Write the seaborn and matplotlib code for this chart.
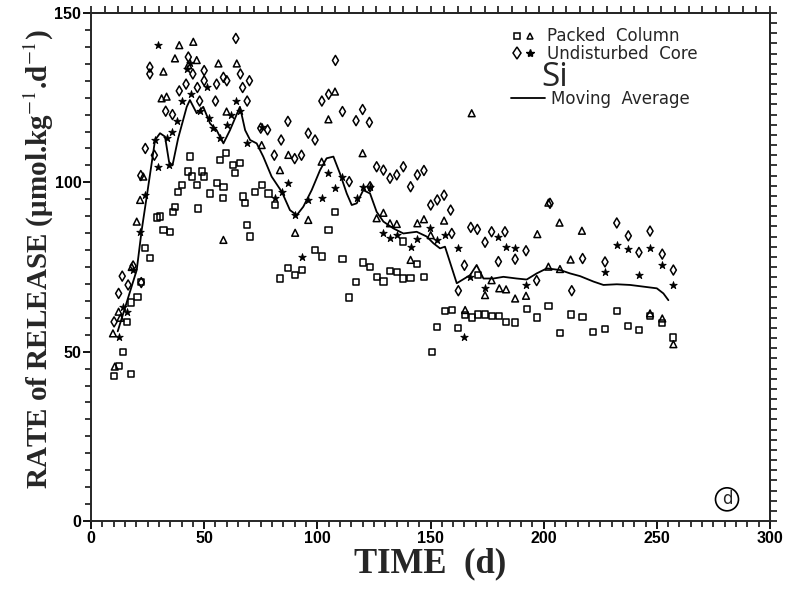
import numpy as np
import matplotlib
matplotlib.use("Agg")
import matplotlib.pyplot as plt
import seaborn as sns
from matplotlib.lines import Line2D
from matplotlib.legend_handler import HandlerTuple

# Packed column, square markers (time d, rate umol/kg/d)
sq_t = [10.2, 17.8, 12.2, 14.1, 16.0, 17.8, 20.5, 22.1, 23.9, 26.1, 29.0, 30.5, 32.0, 34.9,
        36.4, 37.1, 38.6, 40.1, 43.0, 43.7, 44.5, 46.7, 47.4, 48.9, 49.9, 52.6, 55.5, 57.0,
        58.2, 58.5, 59.7, 62.9, 63.6, 65.8, 67.3, 68.0, 68.8, 70.3, 72.5, 75.4, 78.4, 81.3,
        83.5, 87.2, 90.2, 93.1, 99.0, 101.9, 104.9, 107.8, 111.1, 114.1, 117.1, 120.3, 123.3,
        126.2, 129.2, 132.1, 135.1, 138.0, 138.0, 141.2, 144.2, 147.1, 150.5, 153.0, 156.4,
        159.4, 162.3, 165.3, 168.2, 171.1, 171.1, 174.1, 177.0, 180.3, 183.2, 187.4, 192.5,
        197.2, 202.1, 207.2, 212.1, 217.2, 221.9, 227.1, 232.3, 237.1, 242.1, 247.0, 252.4, 257.3]
sq_r = [42.8, 43.4, 45.8, 50.0, 58.7, 64.5, 66.2, 70.5, 80.7, 77.6, 89.6, 89.9, 85.9, 85.4,
        91.3, 92.8, 97.2, 99.2, 103.2, 107.6, 101.7, 99.2, 92.3, 103.2, 101.7, 96.7, 99.7, 106.6,
        95.3, 98.7, 108.6, 105.1, 102.7, 105.6, 95.8, 93.8, 87.4, 84.0, 97.2, 99.2, 96.7, 93.3,
        71.6, 74.6, 72.6, 74.1, 80.0, 78.1, 85.9, 91.3, 77.4, 66.0, 70.5, 76.3, 75.1,
        72.1, 70.7, 73.9, 73.6, 71.6, 82.5, 71.8, 75.9, 72.1, 50.0, 57.2, 62.1,
        62.3, 56.9, 60.8, 60.1, 61.0, 72.6, 61.0, 60.6, 60.6, 58.8, 58.6, 62.6,
        60.1, 63.6, 55.4, 61.0, 60.3, 55.8, 56.7, 62.0, 57.6, 56.5, 60.6, 58.5, 54.2]

# Packed column, triangle markers
tri_t = [9.7, 10.5, 12.2, 13.0, 18.0, 20.2, 21.7, 23.1, 31.2, 32.0, 33.4, 37.1, 39.0, 43.0,
         45.2, 46.7, 56.3, 58.5, 59.9, 64.4, 75.4, 83.5, 87.2, 90.2, 96.0, 101.9, 104.9, 107.8,
         120.0, 126.2, 129.2, 132.1, 135.1, 141.2, 144.2, 147.1, 150.1, 156.0, 165.3, 168.2,
         174.1, 177.0, 180.4, 183.4, 187.4, 192.2, 197.2, 202.1, 202.1, 207.0, 207.2, 211.9,
         216.9, 247.0, 252.4, 257.3]
tri_r = [55.4, 45.6, 61.8, 60.0, 75.0, 88.4, 94.8, 101.7, 124.8, 132.7, 125.3, 136.6, 140.5, 134.6,
         141.5, 136.1, 135.1, 83.0, 120.9, 135.1, 111.0, 103.6, 108.1, 85.1, 88.9, 106.1, 118.6, 126.8,
         108.6, 89.4, 91.0, 87.9, 87.7, 77.1, 87.9, 89.1, 84.4, 88.7, 62.3, 120.4,
         66.7, 71.1, 68.7, 68.4, 65.7, 66.5, 84.7, 94.0, 75.1, 88.1, 74.4, 77.2,
         85.7, 61.3, 59.8, 52.2]

# Undisturbed core, diamond markers
dia_t = [10.2, 12.2, 13.8, 16.4, 18.6, 22.2, 22.0, 24.0, 26.0, 26.0, 28.0, 33.0, 36.0, 39.0,
         42.0, 43.0, 45.0, 47.0, 48.0, 50.0, 50.0, 55.0, 55.5, 58.5, 60.0, 64.0, 66.0, 67.0,
         69.0, 70.0, 75.0, 78.0, 81.0, 84.0, 87.0, 90.0, 93.0, 96.0, 99.0, 102.0, 105.0, 108.0,
         111.1, 114.1, 117.1, 120.0, 123.0, 123.3, 126.2, 129.2, 132.1, 135.1, 138.0, 141.2,
         144.2, 147.1, 150.1, 153.0, 156.0, 158.9, 159.4, 162.3, 165.0, 167.8, 170.7, 174.1,
         177.0, 180.0, 182.9, 187.4, 192.2, 196.9, 202.8, 212.4, 217.2, 227.1, 232.3, 237.4,
         242.1, 247.0, 252.4, 257.3]
dia_r = [58.8, 67.2, 72.3, 69.7, 75.3, 70.4, 102.0, 110.0, 134.0, 132.0, 108.0, 121.0, 120.0, 127.0,
         129.0, 137.0, 132.0, 128.0, 124.0, 130.0, 133.0, 124.0, 129.0, 131.0, 130.0, 142.5, 132.0, 128.0,
         124.0, 130.0, 116.0, 115.5, 108.0, 112.5, 118.0, 107.0, 108.0, 114.5, 112.5, 124.0, 126.0, 136.0,
         120.9, 100.2, 118.2, 121.5, 117.7, 98.7, 104.6, 103.6, 101.2, 102.2, 104.6, 98.7,
         102.2, 103.5, 93.3, 94.8, 96.2, 91.8, 84.9, 68.0, 75.5, 86.7, 86.1, 82.3,
         85.4, 76.6, 85.4, 77.3, 79.8, 71.0, 93.8, 68.0, 77.5, 76.5, 88.0, 84.2,
         79.3, 85.6, 78.8, 74.1]

# Undisturbed core, asterisk markers
ast_t = [12.2, 14.3, 16.0, 18.7, 21.7, 23.9, 28.3, 29.8, 29.8, 33.4, 34.5, 36.0, 38.0, 40.0,
         42.3, 43.7, 44.0, 48.0, 51.1, 52.0, 54.0, 57.0, 60.0, 62.0, 64.0, 66.0, 68.8, 75.4,
         81.3, 84.3, 87.2, 90.2, 93.1, 96.0, 101.9, 104.9, 107.8, 110.8, 117.4, 120.3, 123.3,
         128.9, 132.1, 135.1, 141.2, 144.2, 149.8, 153.0, 156.4, 162.3, 164.8, 167.5, 174.1,
         180.0, 183.4, 187.4, 192.2, 227.1, 232.3, 237.4, 242.1, 247.0, 252.4, 257.3]
ast_r = [54.2, 63.3, 61.8, 74.1, 85.4, 96.3, 112.5, 104.6, 140.5, 113.0, 105.0, 115.0, 118.0, 124.0,
         133.6, 135.1, 126.0, 121.0, 128.2, 119.0, 116.0, 113.0, 117.0, 120.0, 124.0, 121.0, 111.5, 116.4,
         95.3, 97.2, 99.7, 90.4, 78.1, 94.8, 95.3, 102.7, 98.2, 101.7, 95.3, 98.5, 98.5,
         84.9, 83.7, 84.4, 81.0, 83.2, 86.4, 83.0, 84.4, 80.5, 54.4, 72.1, 68.7,
         83.9, 80.9, 80.7, 69.7, 73.6, 81.6, 80.2, 72.5, 80.7, 75.7, 69.6]

# Moving average of all four series
ma_t = [11.8, 20.2, 22.4, 24.6, 26.8, 28.3, 30.5, 32.7, 34.5, 36.0, 38.5, 42.3, 43.7, 46.7,
        49.6, 52.6, 55.5, 58.5, 61.4, 65.8, 68.1, 70.3, 73.2, 76.1, 79.8, 84.3, 87.9, 90.9,
        93.8, 97.5, 101.2, 104.1, 107.1, 110.0, 113.0, 115.2, 117.4, 120.3, 123.3, 126.2,
        129.2, 133.6, 138.0, 143.9, 148.3, 151.3, 154.2, 156.4, 161.6, 167.5, 170.4, 173.4,
        177.8, 182.2, 188.1, 192.5, 196.9, 201.4, 207.3, 211.7, 216.1, 222.0, 226.4, 232.3,
        238.2, 244.1, 250.0, 252.9, 255.1]
ma_r = [56.0, 74.1, 85.9, 95.7, 105.6, 112.5, 114.5, 113.5, 106.0, 105.0, 113.0, 122.3, 124.3, 120.4,
        122.3, 117.4, 115.4, 111.5, 115.4, 122.3, 115.4, 112.5, 111.5, 107.6, 101.7, 97.2, 91.8, 90.3,
        92.8, 97.7, 103.6, 107.1, 107.6, 102.6, 96.7, 93.3, 93.8, 97.7, 96.7, 91.3,
        88.4, 86.4, 84.9, 85.4, 84.0, 82.0, 80.5, 81.0, 70.2, 72.6, 75.6, 71.6,
        71.6, 72.1, 71.6, 71.3, 73.1, 74.6, 74.1, 73.1, 72.3, 70.7, 69.7, 69.9,
        69.7, 69.2, 68.7, 67.2, 65.2]

sns.set_theme(style="ticks")
plt.rcParams.update({
    "font.family": ["DejaVu Sans"],
    "mathtext.fontset": "stix",
    "axes.linewidth": 1.4,
    "xtick.major.width": 1.3, "ytick.major.width": 1.3,
    "xtick.minor.width": 1.1, "ytick.minor.width": 1.1,
    "xtick.color": "black", "ytick.color": "black",
})

fig = plt.figure(figsize=(7.91, 5.89), dpi=100)
ax = fig.add_axes([91 / 791, 1 - 521 / 589, (770 - 91) / 791, (521 - 13) / 589])


def open_scatter(x, y, marker, size):
    sns.scatterplot(x=x, y=y, marker=marker, s=size, color="black", linewidth=1.1, ax=ax)
    coll = ax.collections[-1]
    coll.set_facecolor("none")
    coll.set_edgecolor("black")


open_scatter(sq_t, sq_r, "s", 20)
open_scatter(tri_t, tri_r, "^", 24)
open_scatter(dia_t, dia_r, "d", 26)
sns.scatterplot(x=ast_t, y=ast_r, marker="*", s=32, color="black", edgecolor="black",
                linewidth=0.6, ax=ax)
sns.lineplot(x=ma_t, y=ma_r, color="black", lw=1.3, sort=False, estimator=None, ax=ax)

ax.set_xlim(0, 300)
ax.set_ylim(0, 150)
ax.set_xticks([0, 50, 100, 150, 200, 250, 300])
ax.set_yticks([0, 50, 100, 150])
ax.set_xticks(np.arange(0, 301, 5), minor=True)
ax.set_yticks(np.arange(0, 151, 5), minor=True)
ax.tick_params(which="major", direction="out", length=6, labelsize=11.5, pad=1)
ax.tick_params(which="minor", direction="out", length=4)
for lab in ax.get_xticklabels() + ax.get_yticklabels():
    lab.set_fontweight("bold")
    lab.set_family("Liberation Sans")

top = ax.secondary_xaxis("top")
top.set_xticks(np.arange(0, 301, 6))
top.set_xticklabels([])
top.tick_params(direction="out", length=5, width=1.1)
right = ax.secondary_yaxis("right")
right.set_yticks(np.arange(0, 151, 3))
right.set_yticklabels([])
right.tick_params(direction="out", length=5, width=1.1)

ax.set_xlabel("TIME  (d)", fontsize=25, family="Liberation Serif", fontweight="bold",
              labelpad=1)
ax.set_ylabel("RATE of RELEASE (μmol.kg$^{-1}$.d$^{-1}$)", fontsize=21,
              family="Liberation Serif", fontweight="bold")
ax.yaxis.set_label_coords(-0.052, 0.515)

ax.text(205, 131.0, "Si", fontsize=24, ha="center", va="center", family="Open Sans")
ax.text(281, 6.4, "d", fontsize=12, ha="center", va="center",
        bbox=dict(boxstyle="circle,pad=0.15", fc="none", ec="black", lw=1.2))

# legend
h_sq = Line2D([], [], marker="s", ls="none", mfc="none", mec="black", ms=4.5, mew=1.1)
h_tri = Line2D([], [], marker="^", ls="none", mfc="none", mec="black", ms=5, mew=1.1)
h_dia = Line2D([], [], marker="d", ls="none", mfc="none", mec="black", ms=6, mew=1.1)
h_ast = Line2D([], [], marker="*", ls="none", mfc="black", mec="black", ms=6)
h_line = Line2D([], [], color="black", lw=1.3)
legend_font = {"family": "DejaVu Sans", "size": 12}
leg1 = ax.legend([(h_sq, h_tri), (h_dia, h_ast)], ["Packed  Column", "Undisturbed  Core"],
                 handler_map={tuple: HandlerTuple(ndivide=None, pad=0.3)},
                 loc="upper left", bbox_to_anchor=(0.61, 0.988), frameon=False,
                 borderpad=0, handlelength=1.2, handletextpad=0.8, labelspacing=-0.05,
                 prop=legend_font)
ax.add_artist(leg1)
ax.legend([h_line], ["Moving  Average"], loc="upper left", bbox_to_anchor=(0.607, 0.865),
          frameon=False, borderpad=0, handlelength=2.0, handletextpad=0.4, prop=legend_font)

fig.savefig("out.png", dpi=100)
